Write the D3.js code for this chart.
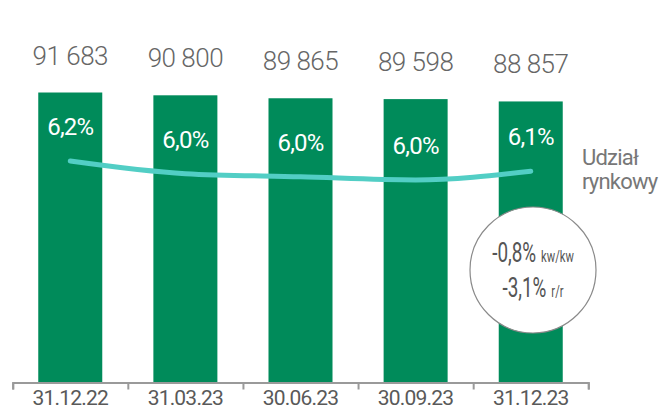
<!DOCTYPE html>
<html>
<head>
<meta charset="utf-8">
<script src="https://cdn.jsdelivr.net/npm/d3@7"></script>
<style>
  body { margin: 0; background: #fff; }
  svg { display: block; font-family: Roboto, "Noto Sans", sans-serif; }
</style>
</head>
<body>
<svg id="chart" width="659" height="409"></svg>
<script>
var categories = ["31.12.22", "31.03.23", "30.06.23", "30.09.23", "31.12.23"];
var clients = [91683, 90800, 89865, 89598, 88857];
var share = [6.2, 6.04, 6.0, 5.96, 6.07];
var changeLines = [["-0,8%", "kw/kw"], ["-3,1%", "r/r"]];
var legendLines = ["Udział", "rynkowy"];

var svg = d3.select("#chart");

var x = d3.scaleBand()
    .domain(categories)
    .range([12.7, 588.3])
    .paddingInner(0.444)
    .paddingOuter(0.222);

var y = d3.scaleLinear()
    .domain([0, 100000])
    .range([382.5, 66.2]);

var yShare = d3.scaleLinear()
    .domain([5.5, 6.5])
    .range([216.3, 137.3]);

var locale = d3.formatLocale({decimal: ",", thousands: " ", grouping: [3], currency: ["", ""]});
var fmtThousands = locale.format(",d");
var fmtPct = locale.format(".1f");

// bars
svg.selectAll(".bar")
    .data(clients)
    .enter().append("rect")
    .attr("class", "bar")
    .attr("x", function(d, i) { return x(categories[i]); })
    .attr("y", function(d) { return y(d); })
    .attr("width", x.bandwidth())
    .attr("height", function(d) { return y(0) - y(d); })
    .attr("fill", "#008b5a");

// value labels above bars
svg.selectAll(".val")
    .data(clients)
    .enter().append("text")
    .attr("class", "val")
    .attr("x", function(d, i) { return x(categories[i]) + x.bandwidth() / 2; })
    .attr("y", function(d) { return y(d) - 28; })
    .attr("text-anchor", "middle")
    .style("font-size", "26px")
    .style("font-weight", 300)
    .style("letter-spacing", "-0.5px")
    .attr("fill", "#666")
    .text(function(d) { return fmtThousands(d); });

// market share line
var line = d3.line()
    .x(function(d, i) { return x(categories[i]) + x.bandwidth() / 2; })
    .y(function(d) { return yShare(d); })
    .curve(d3.curveMonotoneX);

svg.append("path")
    .datum(share)
    .attr("d", line)
    .attr("fill", "none")
    .attr("stroke", "#52cec5")
    .attr("stroke-width", 5)
    .attr("stroke-linecap", "round")
    .attr("stroke-linejoin", "round");

svg.selectAll(".pct")
    .data(share)
    .enter().append("text")
    .attr("class", "pct")
    .attr("x", function(d, i) { return x(categories[i]) + x.bandwidth() / 2; })
    .attr("y", function(d) { return yShare(d) - 26; })
    .attr("text-anchor", "middle")
    .style("font-size", "24px")
    .style("letter-spacing", "-0.8px")
    .attr("fill", "#fff")
    .text(function(d) { return fmtPct(d) + "%"; });

// legend for the line
svg.append("text")
    .attr("x", 582)
    .attr("y", 165)
    .style("font-size", "22px")
    .style("letter-spacing", "-0.8px")
    .attr("fill", "#777")
    .selectAll("tspan")
    .data(legendLines)
    .enter().append("tspan")
    .attr("x", 582)
    .attr("dy", function(d, i) { return i ? 24 : 0; })
    .text(function(d) { return d; });

// axis: boundary ticks + labels
var xIdx = d3.scaleLinear().domain([0, categories.length]).range(x.range());
svg.append("g")
    .attr("transform", "translate(0,382.5)")
    .call(d3.axisBottom(xIdx).ticks(categories.length).tickSize(7).tickSizeOuter(7).tickFormat(""))
    .call(function(g) {
        g.select(".domain").attr("stroke", "#9a9a9a").attr("stroke-width", 2);
        g.selectAll(".tick line").attr("stroke", "#9a9a9a").attr("stroke-width", 2);
    });

svg.append("g")
    .attr("transform", "translate(0,382.5)")
    .call(d3.axisBottom(x).tickSize(0).tickPadding(0))
    .call(function(g) {
        g.select(".domain").remove();
        g.selectAll("text")
            .attr("dy", null)
            .attr("y", 22.5)
            .attr("fill", "#595959")
            .style("font-family", "Roboto, sans-serif")
            .style("font-size", "21px")
            .style("letter-spacing", "-0.8px");
    });

// change bubble
var bubble = svg.append("g").attr("transform", "translate(533,270)");
bubble.append("circle")
    .attr("r", 63)
    .attr("fill", "#fff")
    .attr("stroke", "#8a8a8a")
    .attr("stroke-width", 1.2);

bubble.selectAll(".chg")
    .data(changeLines)
    .enter().append("g")
    .attr("class", "chg")
    .attr("transform", function(d, i) { return "translate(0," + (i ? 27 : -8) + ") scale(0.7,1)"; })
    .append("text")
    .attr("text-anchor", "middle")
    .attr("fill", "#555")
    .each(function(d) {
        var t = d3.select(this);
        t.append("tspan").style("font-size", "27px").text(d[0]);
        t.append("tspan").attr("dx", 7).style("font-size", "16px").text(d[1]);
    });
</script>
</body>
</html>
